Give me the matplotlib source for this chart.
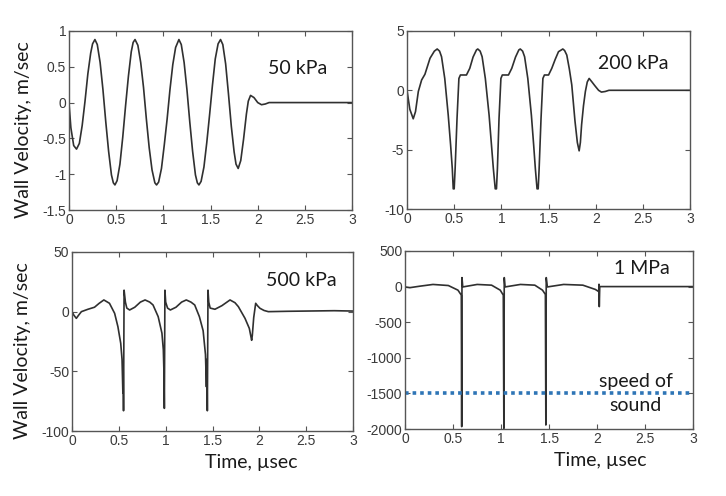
import matplotlib
matplotlib.use('Agg')
import matplotlib.pyplot as plt

plt.rcParams['axes.unicode_minus'] = False

# 50 kPa wall velocity (m/sec) vs time (usec)
t_50 = [0, 0.02, 0.05, 0.08, 0.11, 0.14, 0.17, 0.20, 0.23, 0.25, 0.275,
        0.30, 0.33, 0.36, 0.39, 0.42, 0.45, 0.47, 0.487,
        0.51, 0.54, 0.57, 0.60, 0.63, 0.66, 0.68, 0.70,
        0.73, 0.76, 0.79, 0.82, 0.85, 0.88, 0.91, 0.928,
        0.95, 0.98, 1.01, 1.04, 1.07, 1.10, 1.13, 1.165,
        1.19, 1.22, 1.25, 1.28, 1.31, 1.34, 1.36, 1.377,
        1.40, 1.43, 1.46, 1.49, 1.52, 1.55, 1.58, 1.606,
        1.63, 1.66, 1.69, 1.72, 1.75, 1.77, 1.793,
        1.82, 1.85, 1.88, 1.90, 1.924, 1.96, 2.00, 2.04, 2.08, 2.12, 3.0]
v_50 = [0, -0.35, -0.6, -0.65, -0.57, -0.32, 0.02, 0.40, 0.69, 0.82, 0.88,
        0.81, 0.56, 0.18, -0.27, -0.68, -1.01, -1.12, -1.15,
        -1.09, -0.86, -0.48, -0.04, 0.37, 0.71, 0.84, 0.88,
        0.80, 0.56, 0.21, -0.23, -0.63, -0.94, -1.12, -1.15,
        -1.11, -0.92, -0.59, -0.23, 0.18, 0.53, 0.77, 0.88,
        0.81, 0.56, 0.18, -0.27, -0.68, -1.01, -1.12, -1.15,
        -1.10, -0.90, -0.56, -0.17, 0.24, 0.61, 0.82, 0.88,
        0.81, 0.54, 0.12, -0.33, -0.69, -0.86, -0.92,
        -0.81, -0.51, -0.16, 0.02, 0.10, 0.07, 0.0, -0.03, -0.02, 0.0, 0.0]

# 200 kPa
t_200 = [0, 0.03, 0.066, 0.09, 0.12, 0.155, 0.19, 0.244, 0.29, 0.32,
         0.345, 0.366, 0.40, 0.437, 0.462, 0.48, 0.49, 0.50, 0.51, 0.53, 0.55,
         0.566, 0.63, 0.665, 0.70, 0.736, 0.75,
         0.775, 0.796, 0.83, 0.87, 0.895, 0.915, 0.935, 0.948, 0.958, 0.975,
         0.995, 1.01, 1.075, 1.11, 1.15, 1.185, 1.20,
         1.225, 1.246, 1.28, 1.318, 1.342, 1.36, 1.378, 1.39, 1.40, 1.42,
         1.44, 1.456, 1.50, 1.534, 1.57, 1.605, 1.651,
         1.67, 1.693, 1.72, 1.746, 1.78, 1.805, 1.824, 1.837, 1.85, 1.87,
         1.89, 1.91, 1.93, 1.96, 1.99, 2.03, 2.06, 2.10, 2.14, 3.0]
v_200 = [0, -1.6, -2.4, -1.8, -0.1, 0.87, 1.35, 2.7, 3.3, 3.48,
         3.3, 2.83, 1.0, -2.1, -4.6, -6.6, -8.3, -8.3, -6.6, -2.4, 1.0,
         1.29, 1.29, 1.85, 2.8, 3.4, 3.48,
         3.3, 2.83, 1.0, -2.1, -4.6, -6.6, -8.3, -8.3, -6.6, -2.4,
         1.0, 1.29, 1.29, 1.85, 2.8, 3.4, 3.48,
         3.3, 2.83, 1.0, -2.1, -4.6, -6.6, -8.3, -8.3, -6.6, -2.4,
         1.0, 1.29, 1.29, 1.85, 2.6, 3.25, 3.48,
         3.35, 2.97, 1.8, 0.45, -2.6, -4.4, -5.1, -4.4, -2.9, -1.3,
         -0.1, 0.7, 1.0, 0.7, 0.39, 0.0, -0.15, -0.1, 0.0, 0.0]

# 500 kPa
t_500 = [0, 0.02, 0.046, 0.07, 0.10, 0.17, 0.24, 0.29, 0.34, 0.40, 0.455,
         0.49, 0.52, 0.534, 0.543, 0.546, 0.550, 0.556,
         0.570, 0.585, 0.615, 0.67, 0.73, 0.78, 0.83, 0.865, 0.92, 0.96,
         0.975, 0.982, 0.986, 0.992,
         1.00, 1.02, 1.05, 1.11, 1.17, 1.22, 1.27, 1.31, 1.36, 1.40,
         1.425, 1.435, 1.440, 1.445, 1.452,
         1.46, 1.475, 1.526, 1.60, 1.687, 1.74, 1.776, 1.847, 1.893, 1.918,
         1.925, 1.94, 1.961, 1.98, 2.007, 2.05, 2.096, 2.3, 2.5, 2.8, 3.0]
v_500 = [0, -3, -5.6, -3, 0, 2, 3.7, 7, 9.8, 7, -1.4,
         -12.6, -26.5, -40, -68, -45, -83, 18,
         8, 3, 1.4, 3.7, 8, 9.8, 8, 5.6, -4.2, -18,
         -32, -52, -81, 18,
         8, 3, 1.4, 3.7, 8, 9.8, 8, 5.6, -4.2, -16,
         -36, -63, -40, -83, 18,
         8, 3, 2, 5, 9.8, 7.5, 4.2, -5.6, -14, -24,
         -20, -5, 7, 5, 2.8, 1, 0, 0.3, 0.5, 0.8, 0.5]

# 1 MPa
t_1m = [0, 0.05, 0.15, 0.29, 0.45, 0.55, 0.585, 0.589, 0.592,
        0.60, 0.75, 0.90, 0.99, 1.022, 1.028, 1.032,
        1.04, 1.20, 1.35, 1.43, 1.46, 1.465, 1.469,
        1.48, 1.65, 1.85, 1.98, 2.015, 2.018, 2.021, 2.026, 3.0]
v_1m = [-5, -15, 5, 30, 15, -50, -120, -1966, 126,
        -5, 30, 20, -50, -120, -1990, 126,
        -5, 30, 20, -50, -110, -1943, 126,
        -5, 30, 20, -40, -70, 33, -281, 0, 0]

speed_of_sound = -1500

panels = [
    (t_50, v_50, [0.095, 0.5766, 0.390, 0.361], (-1.5, 1),
     [1, 0.5, 0, -0.5, -1, -1.5], '50 kPa', (0.806, 0.79)),
    (t_200, v_200, [0.5606, 0.5786, 0.390, 0.359], (-10, 5),
     [5, 0, -5, -10], '200 kPa', (0.80, 0.82)),
    (t_500, v_500, [0.0992, 0.131, 0.387, 0.361], (-100, 50),
     [50, 0, -50, -100], '500 kPa', (0.815, 0.84)),
    (t_1m, v_1m, [0.558, 0.135, 0.397, 0.359], (-2000, 500),
     [500, 0, -500, -1000, -1500, -2000], '1 MPa', (0.82, 0.90)),
]

fig = plt.figure(figsize=(7.26, 4.96), dpi=100)
label_font = ['Lato', 'DejaVu Sans']
axes = []
for t, v, pos, ylim, yticks, name, txy in panels:
    ax = fig.add_axes(pos)
    ax.plot(t, v, color='#303030', lw=1.2)
    ax.set_xlim(0, 3)
    ax.set_ylim(*ylim)
    ax.set_xticks([0, 0.5, 1, 1.5, 2, 2.5, 3])
    ax.set_xticklabels(['0', '0.5', '1', '1.5', '2', '2.5', '3'])
    ax.set_yticks(yticks)
    ax.set_yticklabels(['%g' % y for y in yticks])
    ax.tick_params(direction='in', top=True, right=True, length=3.5,
                   width=0.8, color='#555555', labelsize=10,
                   labelcolor='#3a3a3a', pad=2)
    for lab in ax.get_xticklabels() + ax.get_yticklabels():
        lab.set_fontfamily('Liberation Sans')
    for sp in ax.spines.values():
        sp.set_color('#555555')
        sp.set_linewidth(1.0)
    ax.text(txy[0], txy[1], name, transform=ax.transAxes, ha='center',
            va='center', fontsize=14, family=label_font, color='#1a1a1a')
    axes.append(ax)

ax_tl, ax_tr, ax_bl, ax_br = axes
for ax in (ax_tl, ax_bl):
    ax.set_ylabel('Wall Velocity, m/sec', fontsize=14, family=label_font,
                  color='#1a1a1a', labelpad=2)
ax_tl.yaxis.set_label_coords(-0.13, 0.45)
ax_bl.yaxis.set_label_coords(-0.145, 0.45)

for ax, xf in ((ax_bl, 0.637), (ax_br, 0.677)):
    ax.set_xlabel('Time, µsec', fontsize=14, family=label_font,
                  color='#1a1a1a')
    ax.xaxis.set_label_coords(xf, -0.13)

ax_br.axhline(speed_of_sound, color='#2e75b6', lw=2.6,
              linestyle=(0, (1, 1.1)))
ax_br.text(0.80, 0.20, 'speed of\nsound', transform=ax_br.transAxes,
           ha='center', va='center', fontsize=14, family=label_font,
           color='#1a1a1a', linespacing=1.45)

fig.savefig('out.png', dpi=100)
